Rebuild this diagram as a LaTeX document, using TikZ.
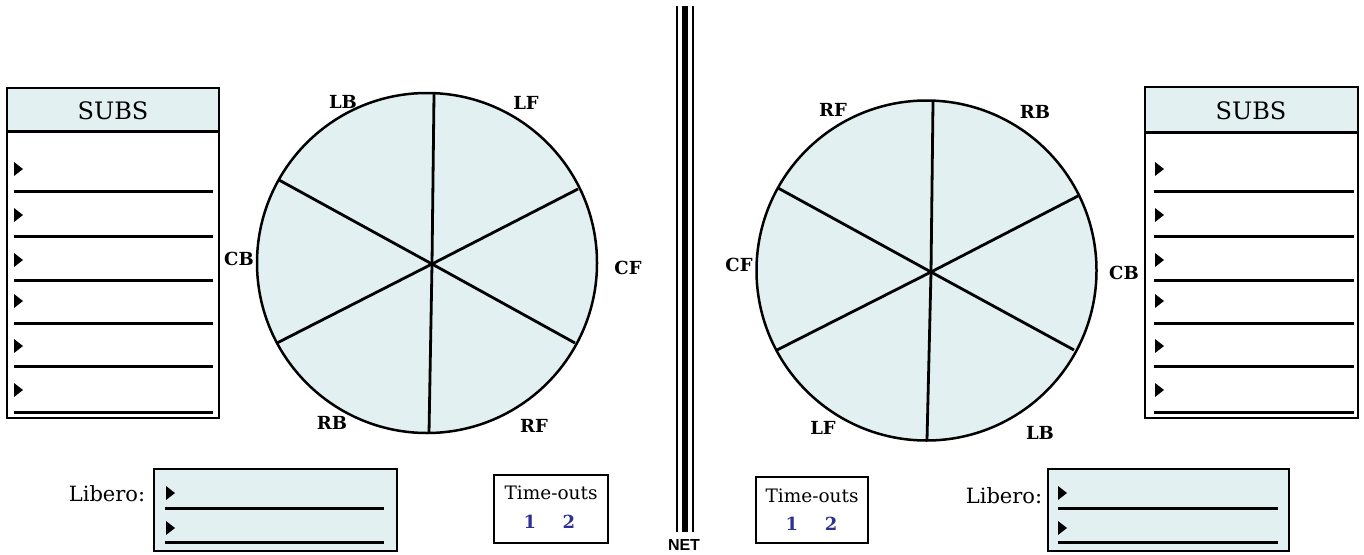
\documentclass[tikz,border=0pt]{standalone}
\usepackage{fontspec}
\setmainfont{DejaVu Serif}
\newfontfamily\netfont{Liberation Sans}
\definecolor{court}{RGB}{226,240,241}
\definecolor{tnum}{RGB}{46,49,146}
\tikzset{
  arrowmark/.pic={\fill[black] (0,-7) -- (9,0) -- (0,7) -- cycle;},
  poslbl/.style={inner sep=0pt, font=\fontsize{18}{18}\selectfont\bfseries},
  subshead/.style={inner sep=0pt, font=\fontsize{24}{24}\selectfont},
  plain/.style={inner sep=0pt, font=\fontsize{18.5}{18.5}\selectfont},
  tonum/.style={inner sep=0pt, text=tnum, font=\fontsize{18}{18}\selectfont\bfseries},
  boxline/.style={line width=2.4pt},
  rowline/.style={line width=3pt},
  spoke/.style={line width=2.8pt},
  courtfill/.style={fill=court, draw=black, line width=2.5pt},
}
\begin{document}
\begin{tikzpicture}[x=1pt,y=-1pt]
\useasboundingbox (0,0) rectangle (1364,554);

% ---------- left SUBS ----------
\fill[court] (7,88) rectangle (219,131.5);
\draw[boxline] (7,88) rectangle (219,418);
\draw[line width=3pt] (7,131.5) -- (219,131.5);
\node[subshead] (subsL) at (113,111) {SUBS};
\foreach \y in {191,236,280,323,366,412} \draw[rowline] (14,\y) -- (213,\y);
\foreach \y in {169,215,260,301,346,390} \pic at (14,\y) {arrowmark};

% ---------- right SUBS ----------
\fill[court] (1145,87) rectangle (1358,132);
\draw[boxline] (1145,87) rectangle (1358,418);
\draw[line width=3pt] (1145,132) -- (1358,132);
\node[subshead] (subsR) at (1251,111) {SUBS};
\foreach \y in {191,236,280,323,366,412} \draw[rowline] (1154,\y) -- (1354,\y);
\foreach \y in {169,215,260,301,346,390} \pic at (1155,\y) {arrowmark};

% ---------- left court ----------
\draw[courtfill] (427,263) circle (170);
\coordinate (hubL) at (432,264);
\foreach \p in {(434,94),(429,433),(279,180),(578,189),(575,343),(277,343)}
  \draw[spoke] (hubL) -- \p;
\node[poslbl] (lLB) at (343,102) {LB};
\node[poslbl] (lLF) at (526,103) {LF};
\node[poslbl] (lCB) at (239,259) {CB};
\node[poslbl] (lCF) at (628,268) {CF};
\node[poslbl] (lRB) at (332,423) {RB};
\node[poslbl] (lRF) at (534,426) {RF};

% ---------- right court ----------
\draw[courtfill] (926.5,270.5) circle (170);
\coordinate (hubR) at (931,272);
\foreach \p in {(933,102),(927,440),(778,188),(1078,196),(777,350),(1074,350)}
  \draw[spoke] (hubR) -- \p;
\node[poslbl] (rRF) at (833,110) {RF};
\node[poslbl] (rRB) at (1035,112) {RB};
\node[poslbl] (rCF) at (739,265) {CF};
\node[poslbl] (rCB) at (1124,273) {CB};
\node[poslbl] (rLF) at (823,428) {LF};
\node[poslbl] (rLB) at (1040,433) {LB};

% ---------- net ----------
\draw[line width=2.3pt] (677,6) -- (677,532);
\draw[line width=5.5pt] (685,6) -- (685,532);
\draw[line width=2.3pt] (693,6) -- (693,532);
\node[inner sep=0pt, font=\netfont\fontsize{16}{16}\selectfont\bfseries] (net) at (684,545) {NET};

% ---------- left libero ----------
\node[inner sep=0pt, font=\fontsize{21}{21}\selectfont] (libL) at (107,494) {Libero:};
\draw[courtfill] (154,469) rectangle (397,551);
\draw[rowline] (165,508) -- (384,508);
\draw[rowline] (165,542) -- (384,542);
\pic at (166,493) {arrowmark};
\pic at (166,528) {arrowmark};

% ---------- right libero ----------
\node[inner sep=0pt, font=\fontsize{21}{21}\selectfont] (libR) at (1004,496) {Libero:};
\draw[courtfill] (1048,469) rectangle (1289,551);
\draw[rowline] (1058,508) -- (1278,508);
\draw[rowline] (1058,542) -- (1278,542);
\pic at (1058,493) {arrowmark};
\pic at (1058,528) {arrowmark};

% ---------- time-outs ----------
\draw[line width=1.5pt] (494,475) rectangle (608,543);
\node[plain] (toL) at (551,493) {Time-outs};
\node[tonum] (toL1) at (530,522) {1};
\node[tonum] (toL2) at (569,522) {2};

\draw[line width=1.5pt] (756,477) rectangle (868,543);
\node[plain] (toR) at (812,496) {Time-outs};
\node[tonum] (toR1) at (792,524) {1};
\node[tonum] (toR2) at (831,524) {2};
\end{tikzpicture}
\end{document}
